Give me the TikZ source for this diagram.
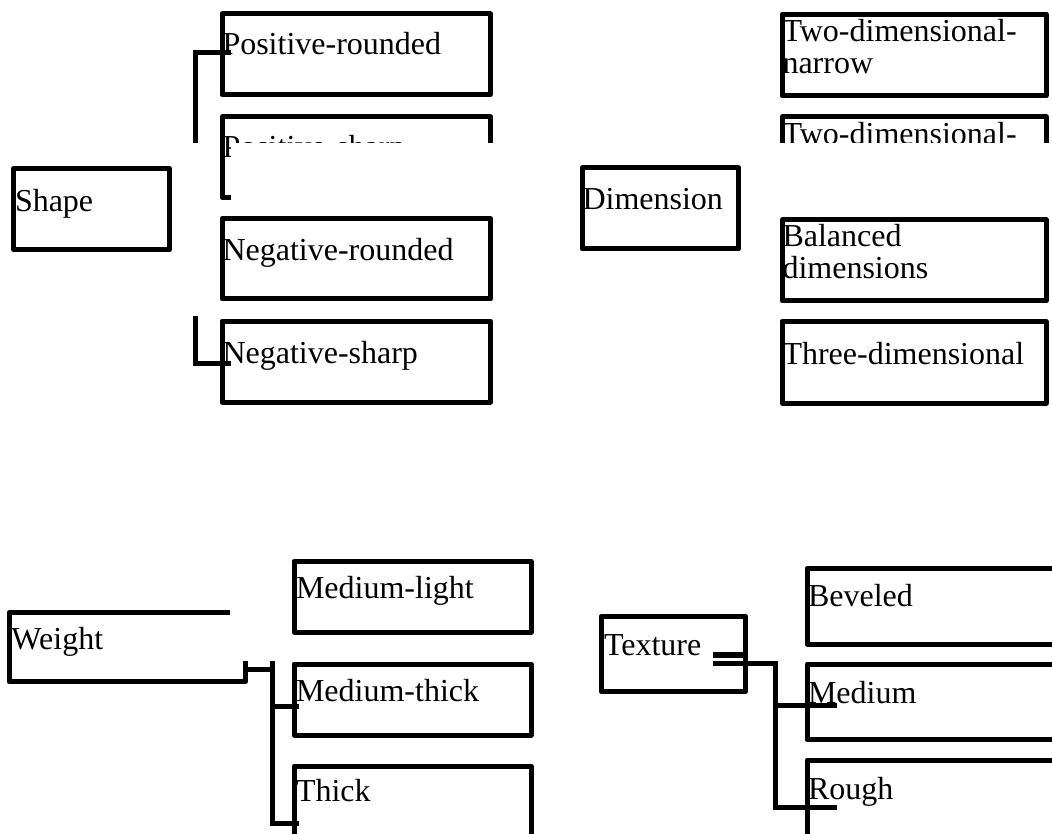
\documentclass[tikz,border=0pt]{standalone}
\usepackage{fontspec}
\setmainfont{Liberation Serif}
\begin{document}
\begin{tikzpicture}[x=1pt,y=-1pt,
  box/.style={draw=black, line width=5pt, line join=round, inner sep=0pt, outer sep=0pt, anchor=north west},
  lbl/.style={inner sep=0pt, outer sep=0pt, anchor=base west, font=\fontsize{32}{32}\selectfont, text=black},
  conn/.style={draw=black, line width=5pt, line join=miter},
  mask/.style={fill=white, draw=none}]
\useasboundingbox (0,0) rectangle (1052,834);
\clip (0,0) rectangle (1052,834);

% ---------- Shape group ----------
\node[box, minimum width=268.5pt, minimum height=80.5pt] (pr) at (222,14) {};
\node[lbl] (prt) at (222.5,55) {Positive-rounded};
\node[box, minimum width=268.5pt, minimum height=80.5pt] (ps) at (222,117) {};
\node[lbl] (pst) at (222.5,158) {Positive-sharp};
\node[box, minimum width=268.5pt, minimum height=80.5pt] (nr) at (222,218.5) {};
\node[lbl] (nrt) at (222.5,261) {Negative-rounded};
\node[box, minimum width=268.5pt, minimum height=81pt] (ns) at (222,321) {};
\node[lbl] (nst) at (222.5,363.5) {Negative-sharp};

\coordinate (s1a) at (231,52.5);
\coordinate (s1b) at (195,52.5);
\coordinate (s1c) at (195,150);
\draw[conn] (s1a) -- (s1b) -- (s1c);
\coordinate (s2a) at (195,316);
\coordinate (s2b) at (195,363.5);
\coordinate (s2c) at (231,363.5);
\draw[conn] (s2a) -- (s2b) -- (s2c);

% ---------- Dimension group ----------
\node[box, minimum width=264pt, minimum height=81.6pt] (dn) at (782,14.2) {};
\node[lbl] (dnt) at (782.5,42) {\begin{tabular}[t]{@{}l@{}}Two-dimensional-\\narrow\end{tabular}};
\node[box, minimum width=264pt, minimum height=81pt] (dw) at (782,117) {};
\node[lbl] (dwt) at (782.5,145) {\begin{tabular}[t]{@{}l@{}}Two-dimensional-\\wide\end{tabular}};

% mask (rendering gap)
\fill[mask] (231,143) rectangle (1060,212.5);
\fill[mask] (180,143) rectangle (216,212.5);

\node[box, minimum width=156pt, minimum height=81pt] (shape) at (13.5,168.5) {};
\node[lbl] (shapet) at (15,211.5) {Shape};

\node[box, minimum width=156.5pt, minimum height=81pt] (dim) at (582,168) {};
\node[lbl] (dimt) at (582.5,210) {Dimension};
\node[box, minimum width=264pt, minimum height=81pt] (db) at (782,220) {};
\node[lbl] (dbt) at (782.5,247) {\begin{tabular}[t]{@{}l@{}}Balanced\\dimensions\end{tabular}};
\node[box, minimum width=264pt, minimum height=81.5pt] (d3) at (782,321.5) {};
\node[lbl] (d3t) at (782.5,364) {Three-dimensional};

% ---------- Weight group ----------
\node[box, minimum width=236.7pt, minimum height=69pt] (weight) at (9,612.7) {};
\node[lbl] (weightt) at (11.5,649) {Weight};
\coordinate (w0) at (245.7,669);
\coordinate (w1) at (272.3,669);
\draw[conn] (w0) -- (w1);
\coordinate (wtop) at (272.3,640);
\coordinate (wbot) at (272.3,823);
\coordinate (wthick) at (299,823);
\draw[conn] (wtop) -- (wbot) -- (wthick);
\coordinate (wm) at (272.3,706);
\coordinate (wmt) at (299,706);
\draw[conn] (wm) -- (wmt);
\fill[mask] (230,585) rectangle (289,661);

\node[box, minimum width=237pt, minimum height=70.5pt] (ml) at (294,561.5) {};
\node[lbl] (mlt) at (296,598) {Medium-light};
\node[box, minimum width=237pt, minimum height=71pt] (mt) at (294,664) {};
\node[lbl] (mtt) at (296,701.7) {Medium-thick};
\node[box, minimum width=237pt, minimum height=72pt] (th) at (294,766) {};
\node[lbl] (tht) at (296,801.7) {Thick};

% ---------- Texture group ----------
\node[box, minimum width=144.8pt, minimum height=75.2pt] (texture) at (601,616.5) {};
\node[lbl] (texturet) at (604,655) {Texture};
\node[box, minimum width=280pt, minimum height=75.5pt] (bev) at (807,568.5) {};
\node[lbl] (bevt) at (808,606.7) {Beveled};
\node[box, minimum width=280pt, minimum height=75.3pt] (med) at (807,664.2) {};
\node[lbl] (medt) at (808,703) {Medium};
\node[box, minimum width=280pt, minimum height=76.5pt] (rough) at (807,760) {};
\node[lbl] (rought) at (808,799) {Rough};

\coordinate (tb0) at (713,655);
\coordinate (tb1) at (747,655);
\draw[draw=black, line width=6pt] (tb0) -- (tb1);
\coordinate (t0) at (713,663.5);
\coordinate (t1) at (775.8,663.5);
\coordinate (t2) at (775.8,807.8);
\coordinate (t3) at (837.3,807.8);
\draw[conn] (t0) -- (t1) -- (t2) -- (t3);
\coordinate (tm0) at (775.8,705.8);
\coordinate (tm1) at (837.3,705.8);
\draw[conn] (tm0) -- (tm1);
\end{tikzpicture}
\end{document}
